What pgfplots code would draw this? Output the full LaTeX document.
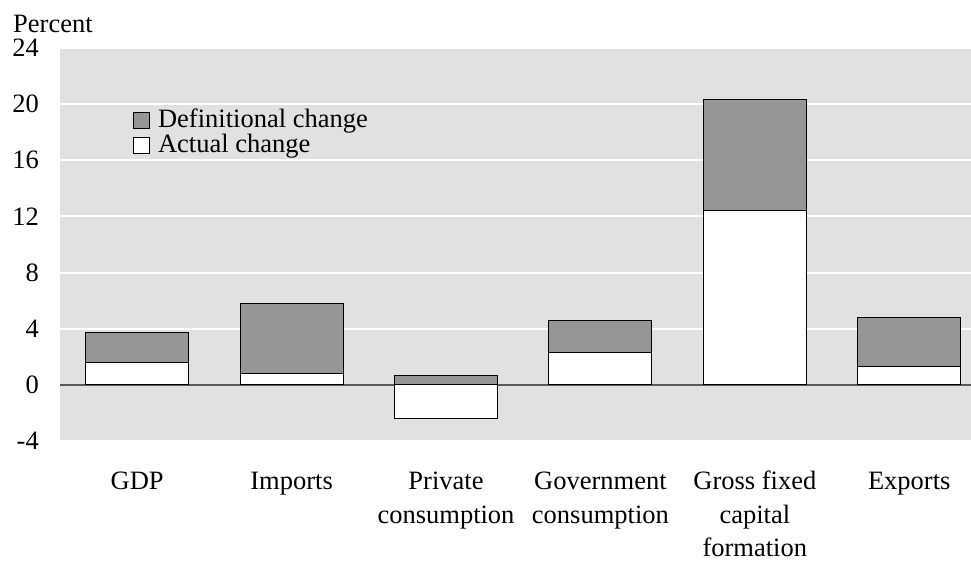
\documentclass[border=0pt]{standalone}
\usepackage{fontspec}
\setmainfont{Liberation Serif}
\usepackage{pgfplots}
\pgfplotsset{compat=1.18}
\usetikzlibrary{calc}
\definecolor{bgGray}{RGB}{225,225,225}
\definecolor{barGray}{RGB}{150,150,150}
\definecolor{zeroGray}{RGB}{90,90,90}
\newcommand{\chartfont}{\fontsize{26.5bp}{33.5bp}\selectfont}

\begin{document}
\begin{tikzpicture}
\begin{axis}[
    name=ax,
    width=911bp, height=393bp, scale only axis,
    clip=false,
    xmin=-0.5, xmax=5.4, ymin=-4, ymax=24,
    ytick={-4,0,4,8,12,16,20,24},
    yticklabels={-4,0,4,8,12,16,20,24},
    xtick={0,...,5},
    xticklabels={\strut GDP, \strut Imports, \strut Private\\consumption, \strut Government\\consumption, \strut Gross fixed\\capital\\formation, \strut Exports},
    axis line style={draw=none},
    major tick length=0pt,
    axis background/.style={fill=bgGray},
    ymajorgrids, grid style={white, line width=2bp},
    yticklabel style={font=\chartfont, anchor=east, inner sep=0pt, xshift=-21bp},
    xticklabel style={font=\chartfont, anchor=north, inner sep=0pt, align=center, yshift=-25bp},
    legend image code/.code={\draw[#1, line width=1bp] (0bp,-7bp) rectangle (16bp,9bp);},
    legend style={
        at={(0.080,0.845)}, anchor=north west,
        draw=none, fill=none, inner sep=0pt,
        font=\chartfont, row sep=1bp,
        nodes={inner sep=0pt, text height=18bp, text depth=6bp},
        /tikz/every odd column/.append style={column sep=8bp},
    },
    legend cell align=left,
]
% zero line
\draw[zeroGray, line width=1.5bp] (axis cs:-0.5,0) -- (axis cs:5.4,0);

% top of each bar (definitional change on top of actual change)
\addplot[ybar, bar width=103bp, bar shift=0pt, fill=barGray, draw=black, line width=1bp]
    coordinates {(0,3.7) (1,5.8) (2,0.64) (3,4.6) (4,20.3) (5,4.8)};
% actual change
\addplot[ybar, bar width=103bp, bar shift=0pt, fill=white, draw=black, line width=1bp]
    coordinates {(0,1.6) (1,0.8) (2,-2.4) (3,2.3) (4,12.4) (5,1.3)};
\legend{Definitional change, Actual change}

\node[anchor=base west, font=\chartfont, inner sep=0pt] at (rel axis cs:0,1) [xshift=-47bp, yshift=15bp] {Percent};
\end{axis}
\pgfresetboundingbox
\path ($(ax.south west)+(-60bp,-122bp)$) rectangle ($(ax.north east)+(0bp,48bp)$);
\end{tikzpicture}
\end{document}
